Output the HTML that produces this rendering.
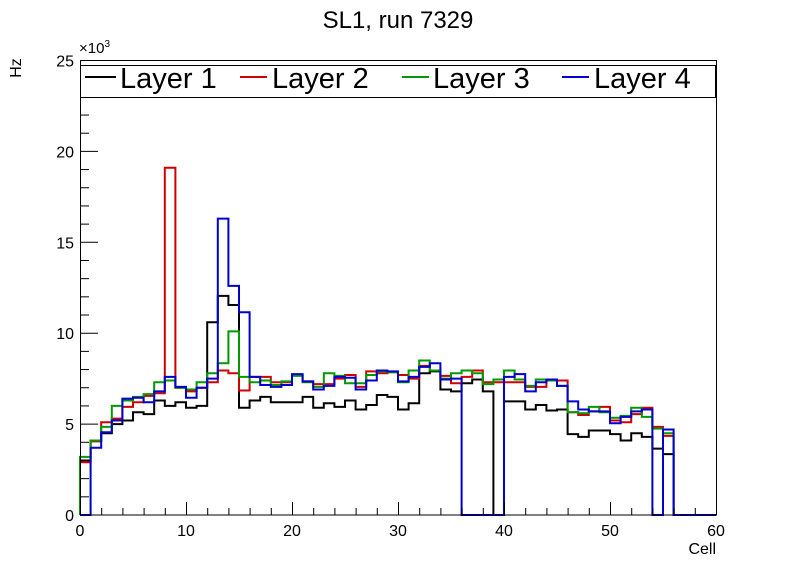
<!DOCTYPE html>
<html><head><meta charset="utf-8"><style>
body{margin:0;background:#fff;width:796px;height:572px;overflow:hidden}
svg{display:block;font-family:"Liberation Sans",sans-serif}
</style></head><body>
<svg id="chart" width="796" height="572">
<rect x="0" y="0" width="796" height="572" fill="#fff"/>
<text x="398" y="28" font-size="24" text-anchor="middle">SL1, run 7329</text>
<text transform="translate(21,68) rotate(-90)" font-size="16" text-anchor="middle">Hz</text>
<text x="716" y="554" font-size="16" text-anchor="end">Cell</text>
<text x="79" y="53" font-size="15">×10<tspan dy="-6" font-size="10">3</tspan></text>
<g id="series"></g>
<g id="axes"></g>
<g>
<rect x="80.5" y="65.5" width="635" height="32" fill="#fff" stroke="#000" stroke-width="1"/>
<g><line x1="85" y1="77" x2="116" y2="77" stroke="#000" stroke-width="2"/><text x="120" y="88" font-size="29">Layer 1</text></g>
<g><line x1="240" y1="77" x2="267" y2="77" stroke="#d00000" stroke-width="2"/><text x="272" y="88" font-size="29">Layer 2</text></g>
<g><line x1="402" y1="77" x2="429" y2="77" stroke="#009900" stroke-width="2"/><text x="433" y="88" font-size="29">Layer 3</text></g>
<g><line x1="562" y1="77" x2="589" y2="77" stroke="#0000cc" stroke-width="2"/><text x="594" y="88" font-size="29">Layer 4</text></g>
</g>
</svg>
<script>
const layer1 = [3.0,4.1,4.5,5.0,5.2,5.65,5.55,6.3,6.0,6.2,5.9,6.0,10.6,12.05,11.55,5.9,6.3,6.5,6.2,6.2,6.2,6.5,5.9,6.15,5.95,6.3,5.8,6.05,6.6,6.5,5.8,6.15,7.8,7.9,6.9,6.8,7.25,7.45,6.8,0,6.25,6.25,5.8,6.05,5.75,5.8,4.45,4.3,4.65,4.65,4.45,4.1,4.5,4.3,3.65,3.35,0,0,0,0];
const layer2 = [2.9,4.05,5.1,5.3,5.95,6.2,6.55,6.7,19.1,7.0,6.8,7.0,7.3,7.95,7.8,6.85,7.6,7.6,7.3,7.3,7.7,7.35,7.2,7.2,7.5,7.7,7.05,7.9,7.8,7.85,7.7,7.5,8.2,7.95,7.65,7.25,7.6,7.95,7.3,7.3,7.3,7.3,7.05,7.05,7.4,7.4,5.65,5.5,5.7,5.95,5.2,5.1,5.55,5.9,4.85,4.35,0,0,0,0];
const layer3 = [3.2,4.1,4.85,6.0,6.3,6.5,6.65,7.3,7.4,7.0,6.9,7.3,7.8,8.35,10.1,7.6,7.3,7.4,7.15,7.35,7.65,7.3,7.05,7.8,7.65,7.25,7.25,7.7,7.9,7.85,7.3,7.95,8.5,7.95,7.5,7.8,7.95,7.8,7.2,7.45,7.95,7.45,7.1,7.45,7.4,7.1,5.65,5.6,5.95,5.65,5.35,5.45,5.9,5.4,4.75,4.5,0,0,0,0];
const layer4 = [0,3.7,4.55,5.2,6.4,6.45,6.2,6.8,7.6,7.05,6.45,7.0,7.5,16.3,12.6,11.15,7.6,7.15,7.05,7.15,7.75,7.35,6.9,7.1,7.6,7.55,6.9,7.4,7.95,7.9,7.35,7.6,8.15,8.35,7.45,7.5,0,0,0,0,7.6,7.75,6.8,7.3,7.45,7.1,6.25,5.8,5.7,5.7,5.05,5.4,5.7,5.8,0,4.7,0,0,0,0];
const xTicks = [0,10,20,30,40,50,60];
const yTicks = [0,5,10,15,20,25];
const seriesNames = ['layer-1','layer-2','layer-3','layer-4'];
const seriesColors = ['#000','#d00000','#009900','#0000cc'];
const allSeries = [layer1, layer2, layer3, layer4];

const NS = 'http://www.w3.org/2000/svg';
const X0 = 80, X1 = 716, Y0 = 515, Y1 = 60.5;
const xMax = 60, yMax = 25;
function sx(v){ return X0 + (X1 - X0) * v / xMax; }
function sy(v){ return Y0 - (Y0 - Y1) * v / yMax; }

const gS = document.getElementById('series');
allSeries.forEach((data, si) => {
  let d = 'M' + sx(0) + ' ' + sy(0);
  data.forEach((v, i) => {
    d += ' V' + sy(v).toFixed(2) + ' H' + sx(i + 1).toFixed(2);
  });
  d += ' V' + sy(0);
  const p = document.createElementNS(NS, 'path');
  p.setAttribute('d', d);
  p.setAttribute('fill', 'none');
  p.setAttribute('stroke', seriesColors[si]);
  p.setAttribute('stroke-width', '2');
  
  
  gS.appendChild(p);
});

const gA = document.getElementById('axes');
function line(x1,y1,x2,y2,name){
  const l = document.createElementNS(NS,'line');
  l.setAttribute('x1',x1);l.setAttribute('y1',y1);l.setAttribute('x2',x2);l.setAttribute('y2',y2);
  l.setAttribute('stroke','#000');l.setAttribute('stroke-width','1');
  
  
  gA.appendChild(l);
}
function text(x,y,s,anchor,name){
  const t = document.createElementNS(NS,'text');
  t.setAttribute('x',x);t.setAttribute('y',y);t.setAttribute('font-size','16');
  t.setAttribute('text-anchor',anchor);t.textContent = s;
  
  
  gA.appendChild(t);
}
const fr = document.createElementNS(NS,'rect');
fr.setAttribute('x',X0+0.5);fr.setAttribute('y',Y1);fr.setAttribute('width',X1-X0);fr.setAttribute('height',Y0-Y1);
fr.setAttribute('fill','none');fr.setAttribute('stroke','#000');


gA.appendChild(fr);
for(let v=0; v<=xMax; v+=2){
  const major = v % 10 === 0;
  line(sx(v)+0.5, Y0, sx(v)+0.5, Y0 - (major ? 13 : 7), 'x-tick');
}
xTicks.forEach(v => text(sx(v), Y0+21, String(v), 'middle', 'x-tick-label'));
for(let v=0; v<=yMax; v+=1){
  const major = v % 5 === 0;
  line(X0, sy(v), X0 + (major ? 18 : 9), sy(v), 'y-tick');
}
yTicks.forEach(v => text(X0-6, sy(v)+6, String(v), 'end', 'y-tick-label'));
</script>
</body></html>
